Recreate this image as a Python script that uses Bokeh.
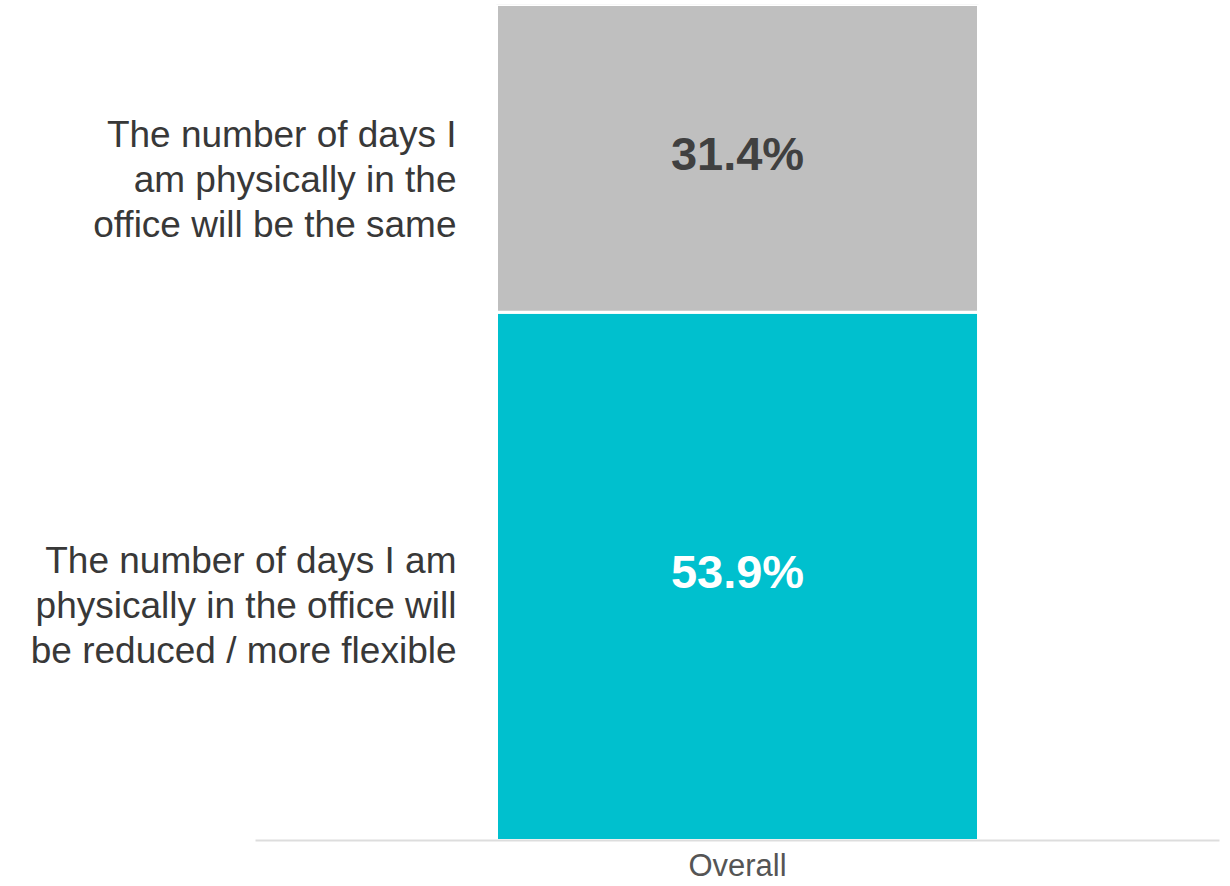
from bokeh.plotting import figure
from bokeh.models import ColumnDataSource, LabelSet, Range1d, FixedTicker
from bokeh.core.properties import value
from bokeh.embed import file_html
from bokeh.resources import INLINE

categories = ["Overall"]
series = ["reduced", "same"]
series_labels = [
    ["The number of days I am", "physically in the office will", "be reduced / more flexible"],
    ["The number of days I", "am physically in the", "office will be the same"],
]
reduced = [53.9]
same = [31.4]
colors = ["#00C0CE", "#BFBFBF"]
value_text_colors = ["#FFFFFF", "#404040"]

FONT = "Liberation Sans"

xs = list(range(len(categories)))
total = reduced[0] + same[0]
src = ColumnDataSource(dict(x=xs, reduced=reduced, same=same))

p = figure(
    width=1230, height=886,
    x_range=Range1d(-0.7645, 0.501),
    y_range=Range1d(0, total),
    output_backend="svg", toolbar_location=None,
    y_axis_location=None,
    min_border_left=0, min_border_right=10,
    min_border_top=4, min_border_bottom=46,
)
p.outline_line_color = None
p.grid.visible = False
p.background_fill_color = "white"
p.border_fill_color = "white"

p.vbar_stack(series, x="x", width=0.5, color=colors, source=src,
             line_color="white", line_width=3)

# value labels at segment centres
seg_vals = [reduced[0], same[0]]
bottoms = [0, reduced[0]]
mids = [b + v / 2 for b, v in zip(bottoms, seg_vals)]
vsrc = ColumnDataSource(dict(
    x=[xs[0]] * 2, y=mids,
    text=[f"{v:.1f}%" for v in seg_vals],
    color=value_text_colors,
))
p.add_layout(LabelSet(x="x", y="y", text="text", source=vsrc,
                      text_color="color", text_font=value(FONT),
                      text_font_style="bold", text_font_size="47px",
                      text_align="center", text_baseline="alphabetic",
                      y_offset=-12))

# category labels to the left of the bar, one row per text line
LINE_H = 45
CENTER_SHIFT = [-42, -34]
lx, ly, lt, loff = [], [], [], []
for k, (lines, m) in enumerate(zip(series_labels, mids)):
    n = len(lines)
    for i, line in enumerate(lines):
        lx.append(xs[0])
        ly.append(m)
        lt.append(line)
        loff.append(CENTER_SHIFT[k] - (i - (n - 1) / 2) * LINE_H)
lsrc = ColumnDataSource(dict(x=lx, y=ly, text=lt, yo=loff))
p.add_layout(LabelSet(x="x", y="y", text="text", source=lsrc,
                      text_color="#383838", text_font=value(FONT),
                      text_font_size="37px", text_align="right",
                      text_baseline="alphabetic",
                      x_offset=-281, y_offset="yo"))

ax = p.xaxis[0]
ax.ticker = FixedTicker(ticks=xs)
ax.major_label_overrides = {x: c for x, c in zip(xs, categories)}
ax.bounds = (-0.5, 0.5)
ax.axis_line_color = "#DDDDDD"
ax.axis_line_width = 2
ax.major_tick_line_color = None
ax.major_tick_out = 0
ax.major_tick_in = 0
ax.minor_tick_line_color = None
ax.major_label_text_font = FONT
ax.major_label_text_font_size = "31px"
ax.major_label_text_color = "#555555"
ax.major_label_standoff = 7

open("out.html", "w").write(file_html(p, INLINE))
